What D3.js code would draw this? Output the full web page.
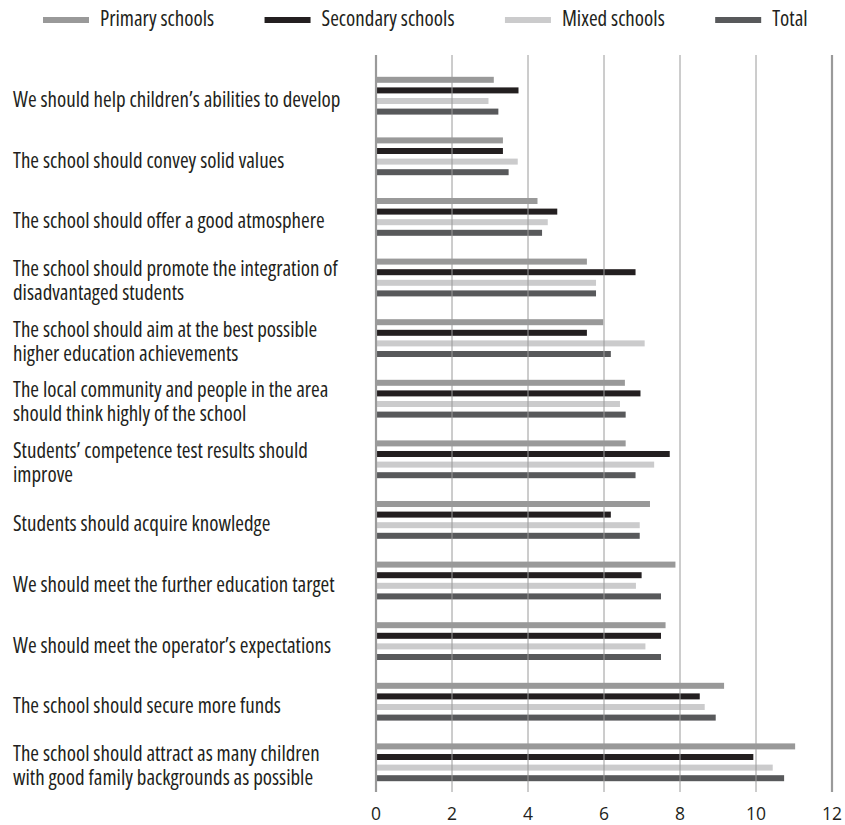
<!DOCTYPE html>
<html>
<head>
<meta charset="utf-8">
<script src="https://cdn.jsdelivr.net/npm/d3@7"></script>
<style>
  html, body { margin: 0; padding: 0; background: #fff; }
  svg { display: block; }
  text { font-family: "Open Sans", sans-serif; fill: #231f20; }
  .cond { font-stretch: condensed; }
</style>
</head>
<body>
<svg id="chart" width="845" height="825"></svg>
<script>
const categories = [
  ["We should help children’s abilities to develop"],
  ["The school should convey solid values"],
  ["The school should offer a good atmosphere"],
  ["The school should promote the integration of", "disadvantaged students"],
  ["The school should aim at the best possible", "higher education achievements"],
  ["The local community and people in the area", "should think highly of the school"],
  ["Students’ competence test results should", "improve"],
  ["Students should acquire knowledge"],
  ["We should meet the further education target"],
  ["We should meet the operator’s expectations"],
  ["The school should secure more funds"],
  ["The school should attract as many children", "with good family backgrounds as possible"]
];
const seriesNames = ["Primary schools", "Secondary schools", "Mixed schools", "Total"];
const primary   = [3.10, 3.34, 4.25, 5.55, 5.98, 6.55, 6.57, 7.21, 7.88, 7.62, 9.16, 11.03];
const secondary = [3.75, 3.34, 4.77, 6.83, 5.55, 6.96, 7.73, 6.18, 6.99, 7.50, 8.52, 9.93];
const mixed     = [2.96, 3.73, 4.52, 5.79, 7.07, 6.42, 7.32, 6.94, 6.84, 7.09, 8.65, 10.44];
const total     = [3.22, 3.49, 4.37, 5.79, 6.18, 6.57, 6.83, 6.94, 7.50, 7.50, 8.94, 10.74];
const xTicks = [0, 2, 4, 6, 8, 10, 12];

const seriesValues = [primary, secondary, mixed, total];
const colors = ["#999999", "#231f20", "#cbcbcc", "#58595b"];

const svg = d3.select("#chart");

const x = d3.scaleLinear().domain([0, 12]).range([376, 832]);
const catKeys = categories.map((c, i) => i);
const y = d3.scaleBand().domain(catKeys).range([65.4, 792.6]).padding(0);
const yInner = d3.scaleBand().domain(seriesNames).range([-21.2, 21.2])
  .paddingInner(0.434).paddingOuter(0.217);

// bars
seriesNames.forEach((s, si) => {
  svg.append("g").selectAll("rect")
    .data(seriesValues[si])
    .join("rect")
    .attr("x", x(0))
    .attr("y", (d, i) => y(i) + y.bandwidth() / 2 + yInner(s))
    .attr("width", d => x(d) - x(0))
    .attr("height", yInner.bandwidth())
    .attr("fill", colors[si]);
});

// grid lines (drawn on top of bars)
svg.append("g").selectAll("line")
  .data(xTicks)
  .join("line")
  .attr("x1", d => x(d)).attr("x2", d => x(d))
  .attr("y1", 55).attr("y2", 792)
  .attr("stroke", "#9a9a9a")
  .attr("stroke-width", d => (d === 0 || d === 12) ? 2.2 : 1);

// tick labels
svg.append("g").selectAll("text")
  .data(xTicks)
  .join("text")
  .attr("x", d => x(d))
  .attr("y", 820)
  .attr("text-anchor", "middle")
  .attr("font-size", 17.5)
  .text(d => d);

// category labels
const labelG = svg.append("g");
categories.forEach((lines, i) => {
  const cy = y(i) + y.bandwidth() / 2;
  const first = cy + 11.5 - (lines.length - 1) * 12.8;
  lines.forEach((ln, li) => {
    labelG.append("text").attr("class", "cond")
      .attr("x", 13).attr("y", first + li * 24)
      .attr("font-size", 21).text(ln);
  });
});

// legend
let lx = 43;
const legend = svg.append("g");
seriesNames.forEach((s, si) => {
  legend.append("rect").attr("x", lx).attr("y", 17).attr("width", 46).attr("height", 6).attr("fill", colors[si]);
  const t = legend.append("text").attr("class", "cond").attr("x", lx + 57).attr("y", 26).attr("font-size", 21).text(s);
  lx += 57 + t.node().getComputedTextLength() + 50.5;
});
</script>
</body>
</html>
